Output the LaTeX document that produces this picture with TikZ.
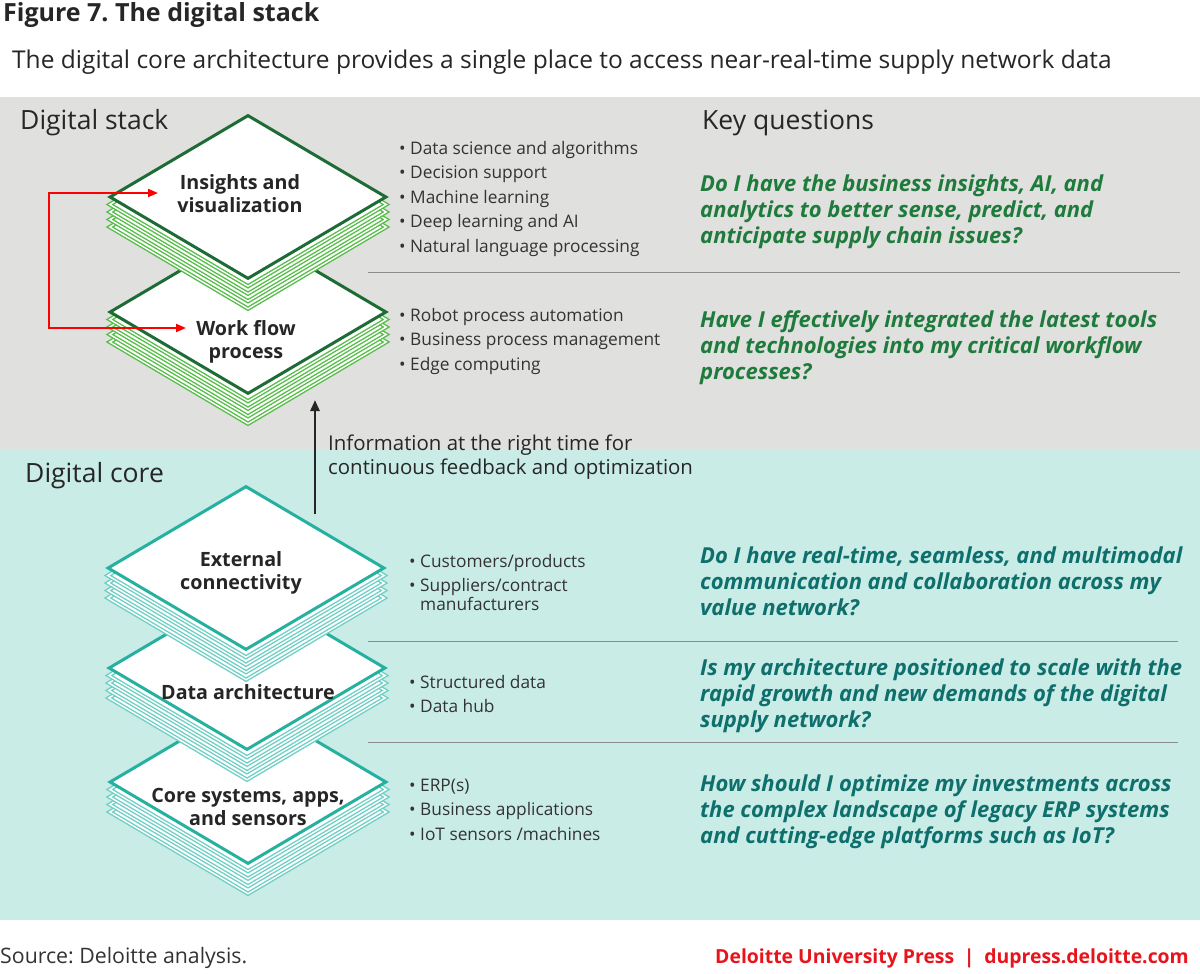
\documentclass[tikz,border=0pt]{standalone}
\usepackage{fontspec}
\setmainfont{Open Sans}
\usetikzlibrary{shapes.geometric,arrows.meta}
\frenchspacing

\definecolor{graybg}{HTML}{E0E0DF}
\definecolor{tealbg}{HTML}{C9ECE7}
\definecolor{dkgreen}{HTML}{1D6B35}
\definecolor{ltgreen}{HTML}{55BD48}
\definecolor{dkteal}{HTML}{26B0A0}
\definecolor{ltteal}{HTML}{6ECFC4}
\definecolor{qgreen}{HTML}{1E7B3C}
\definecolor{qteal}{HTML}{0E6F6C}
\definecolor{bodytext}{HTML}{333333}
\definecolor{dpred}{HTML}{E8141B}
\definecolor{seprule}{HTML}{8C8C8C}

\begin{document}
\begin{tikzpicture}[x=1pt, y=-1pt,
	stacktop/.style={diamond, draw=#1, line width=3pt, fill=white,
		minimum width=277pt, minimum height=164pt, inner sep=0pt},
	stacklayer/.style={diamond, draw=#1, line width=1.4pt, double=white,
		double distance=1.4pt, fill=white,
		minimum width=277pt, minimum height=164pt, inner sep=0pt},
	stacklabel/.style={anchor=base, align=center, inner sep=0pt, text=black!85,
		font=\fontsize{19.7}{23}\selectfont\bfseries},
	bullets/.style={anchor=base west, align=left, inner sep=0pt, text=bodytext,
		font=\fontsize{17.3}{19}\selectfont},
	question/.style={anchor=base west, align=left, inner sep=0pt, text=#1,
		font=\fontsize{22}{26}\selectfont\bfseries\itshape},
	header/.style={anchor=base west, inner sep=0pt, text=black!85,
		font=\fontsize{26.5}{30}\selectfont},
	sepline/.style={draw=seprule, line width=1pt},
	fbarrow/.style={draw=red, line width=2pt, {Triangle[length=10pt,width=8pt]}-{Triangle[length=10pt,width=8pt]}},
	infoarrow/.style={draw=black!85, line width=2.5pt, -{Triangle[length=11pt,width=9pt]}}]

	\fill[white] (0,0) rectangle (1200,974);
	\useasboundingbox (0,0) rectangle (1200,974);

	% title lines
	\node[anchor=base west, inner sep=0pt, text=black!85, font=\fontsize{25}{28}\selectfont\bfseries]
		(title) at (3,22) {Figure 7. The digital stack};
	\node[anchor=base west, inner sep=0pt, text=black!85, font=\fontsize{24.5}{28}\selectfont]
		(subtitle) at (12,69) {The digital core architecture provides a single place to access near-real-time supply network data};

	% bands
	\fill[graybg] (0,97) rectangle (1200,449);
	\fill[tealbg] (0,449) rectangle (1200,920);

	\node[header] (stackhead) at (20,129) {Digital stack};
	\node[header] (keyhead) at (702,129) {Key questions};
	\node[header] (corehead) at (25,482) {Digital core};

	\draw[sepline] (368,272) -- (1180,272);
	\draw[sepline] (368,641) -- (1178,641);
	\draw[sepline] (368,742) -- (1178,742);

	% digital stack
	\foreach \k in {4,3,2,1}
		\node[stacklayer=ltgreen] at (248,{312+7.5*\k}) {};
	\node[stacktop=dkgreen] (workflow) at (248,312) {};
	\foreach \k in {4,3,2,1}
		\node[stacklayer=ltgreen] at (248,{197+7.5*\k}) {};
	\node[stacktop=dkgreen] (insights) at (248,197) {};

	\node[stacklabel] (insightstext) at (240,212) {Insights and\\visualization};
	\node[stacklabel] (workflowtext) at (246,358) {Work flow\\process};

	\coordinate (fbin) at (158,193);
	\coordinate (fbcorner) at (49,193);
	\coordinate (fbout) at (186,328);
	\draw[fbarrow] (fbin) -- (fbcorner) |- (fbout);

	% digital core
	\foreach \k in {4,3,2,1}
		\node[stacklayer=ltteal] at (248,{782+7.5*\k}) {};
	\node[stacktop=dkteal] (coresys) at (248,782) {};
	\foreach \k in {4,3,2,1}
		\node[stacklayer=ltteal] at (247,{668+7.5*\k}) {};
	\node[stacktop=dkteal] (dataarch) at (247,668) {};
	\foreach \k in {4,3,2,1}
		\node[stacklayer=ltteal] at (246,{568+7.5*\k}) {};
	\node[stacktop=dkteal] (extconn) at (246,568) {};

	\node[stacklabel] (extconntext) at (241,589) {External\\connectivity};
	\node[stacklabel] (dataarchtext) at (248,699) {Data architecture};
	\node[stacklabel] (coresystext) at (248,825) {Core systems, apps,\\and sensors};

	\coordinate (infobase) at (315,514);
	\coordinate (infotip) at (315,400);
	\draw[infoarrow] (infobase) -- (infotip);
	\node[anchor=base west, align=left, inner sep=0pt, text=black!85, font=\fontsize{20.4}{24}\selectfont]
		(infotext) at (328,474) {Information at the right time for\\continuous feedback and optimization};

	% bullet lists
	\node[bullets] (insightslist) at (399,252) {%
		• Data science and algorithms\\[5.5pt]
		• Decision support\\[5.5pt]
		• Machine learning\\[5.5pt]
		• Deep learning and AI\\[5.5pt]
		• Natural language processing};
	\node[bullets] (workflowlist) at (399,370) {%
		• Robot process automation\\[5.5pt]
		• Business process management\\[5.5pt]
		• Edge computing};
	\node[bullets] (extconnlist) at (409,610.5) {%
		• Customers/products\\[5.5pt]
		• Suppliers/contract\\
		\hphantom{• }manufacturers};
	\node[bullets] (dataarchlist) at (409,712.5) {%
		• Structured data\\[5.5pt]
		• Data hub};
	\node[bullets] (coresyslist) at (409,840) {%
		• ERP(s)\\[5.5pt]
		• Business applications\\[5.5pt]
		• IoT sensors /machines};

	% key questions
	\node[question=qgreen] (q1) at (700,243) {Do I have the business insights, AI, and\\analytics to better sense, predict, and\\anticipate supply chain issues?};
	\node[question=qgreen] (q2) at (700,379) {Have I effectively integrated the latest tools\\and technologies into my critical workflow\\processes?};
	\node[question=qteal] (q3) at (700,615) {Do I have real-time, seamless, and multimodal\\communication and collaboration across my\\value network?};
	\node[question=qteal] (q4) at (700,727) {Is my architecture positioned to scale with the\\rapid growth and new demands of the digital\\supply network?};
	\node[question=qteal] (q5) at (700,843) {How should I optimize my investments across\\the complex landscape of legacy ERP systems\\and cutting-edge platforms such as IoT?};

	% footer
	\node[anchor=base west, inner sep=0pt, text=black!80, font=\fontsize{21.3}{24}\selectfont]
		(source) at (0,963) {Source: Deloitte analysis.};
	\node[anchor=base east, inner sep=0pt, text=dpred, font=\fontsize{19.4}{22}\selectfont\bfseries]
		(press) at (1189,963) {Deloitte University Press\enspace|\enspace dupress.deloitte.com};
\end{tikzpicture}
\end{document}
